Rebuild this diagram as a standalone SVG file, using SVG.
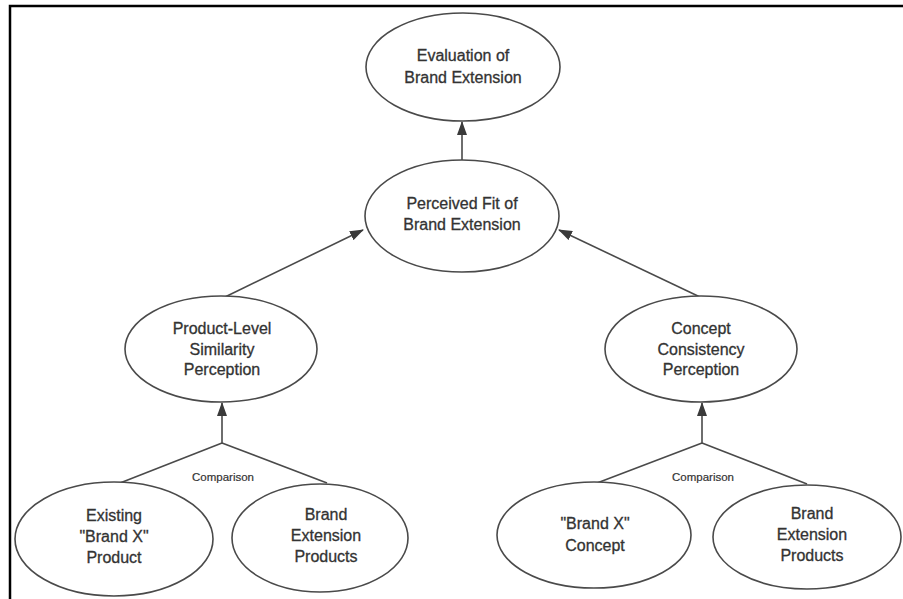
<svg xmlns="http://www.w3.org/2000/svg" width="903" height="599" viewBox="0 0 903 599">
<style>
.n ellipse{fill:#fff;stroke:#4a4a4a;stroke-width:1.6}
.n text{font-family:"Liberation Sans",Arial,sans-serif;font-size:16px;fill:#333;stroke:#333;stroke-width:0.3;text-anchor:middle}
.c line{stroke:#4a4a4a;stroke-width:1.6;fill:none}
.lbl{font-family:"Liberation Sans",Arial,sans-serif;font-size:11.5px;fill:#333;stroke:#333;stroke-width:0.2;text-anchor:middle}
</style>
<defs>
<marker id="ah" markerWidth="14" markerHeight="10" refX="13" refY="5" orient="auto" markerUnits="userSpaceOnUse">
<path d="M0,0 L14,5 L0,10 Z" fill="#3a3a3a"/>
</marker>
</defs>
<rect x="0" y="0" width="903" height="599" fill="#fff"/>
<path d="M10,599 V6 H903" fill="none" stroke="#000" stroke-width="2.5"/>
<g class="c" id="connectors">
<line x1="462" y1="160" x2="462" y2="122" marker-end="url(#ah)"/>
<line x1="225" y1="297" x2="363" y2="230" marker-end="url(#ah)"/>
<line x1="700" y1="297" x2="559" y2="230" marker-end="url(#ah)"/>
<line x1="222" y1="443" x2="222" y2="403" marker-end="url(#ah)"/>
<line x1="702" y1="443" x2="702" y2="403" marker-end="url(#ah)"/>
<line x1="222" y1="443" x2="120" y2="483"/>
<line x1="222" y1="443" x2="327" y2="483"/>
<line x1="702" y1="443" x2="597" y2="483"/>
<line x1="702" y1="443" x2="807" y2="484"/>
<text class="lbl" x="223" y="481">Comparison</text>
<text class="lbl" x="703" y="481">Comparison</text>
</g>
<g class="n" id="evaluation">
<ellipse cx="463" cy="67" rx="97" ry="54"/>
<text x="463" y="61">Evaluation of</text>
<text x="463" y="83">Brand Extension</text>
</g>
<g class="n" id="perceived-fit">
<ellipse cx="462" cy="216" rx="97" ry="56"/>
<text x="462" y="209">Perceived Fit of</text>
<text x="462" y="230">Brand Extension</text>
</g>
<g class="n" id="product-level">
<ellipse cx="221" cy="349" rx="96" ry="53"/>
<text x="222" y="334">Product-Level</text>
<text x="222" y="355">Similarity</text>
<text x="222" y="375">Perception</text>
</g>
<g class="n" id="concept-consistency">
<ellipse cx="701" cy="349" rx="96" ry="53"/>
<text x="701" y="334">Concept</text>
<text x="701" y="355">Consistency</text>
<text x="701" y="375">Perception</text>
</g>
<g class="n" id="existing-brand-x">
<ellipse cx="114" cy="539" rx="99" ry="57"/>
<text x="114" y="521">Existing</text>
<text x="114" y="542">"Brand X"</text>
<text x="114" y="563">Product</text>
</g>
<g class="n" id="brand-ext-products-1">
<ellipse cx="320" cy="538" rx="88" ry="54"/>
<text x="326" y="520">Brand</text>
<text x="326" y="541">Extension</text>
<text x="326" y="562">Products</text>
</g>
<g class="n" id="brand-x-concept">
<ellipse cx="594" cy="535" rx="97" ry="53"/>
<text x="595" y="529">"Brand X"</text>
<text x="595" y="551">Concept</text>
</g>
<g class="n" id="brand-ext-products-2">
<ellipse cx="807" cy="537" rx="94" ry="52"/>
<text x="812" y="519">Brand</text>
<text x="812" y="540">Extension</text>
<text x="812" y="561">Products</text>
</g>
</svg>
